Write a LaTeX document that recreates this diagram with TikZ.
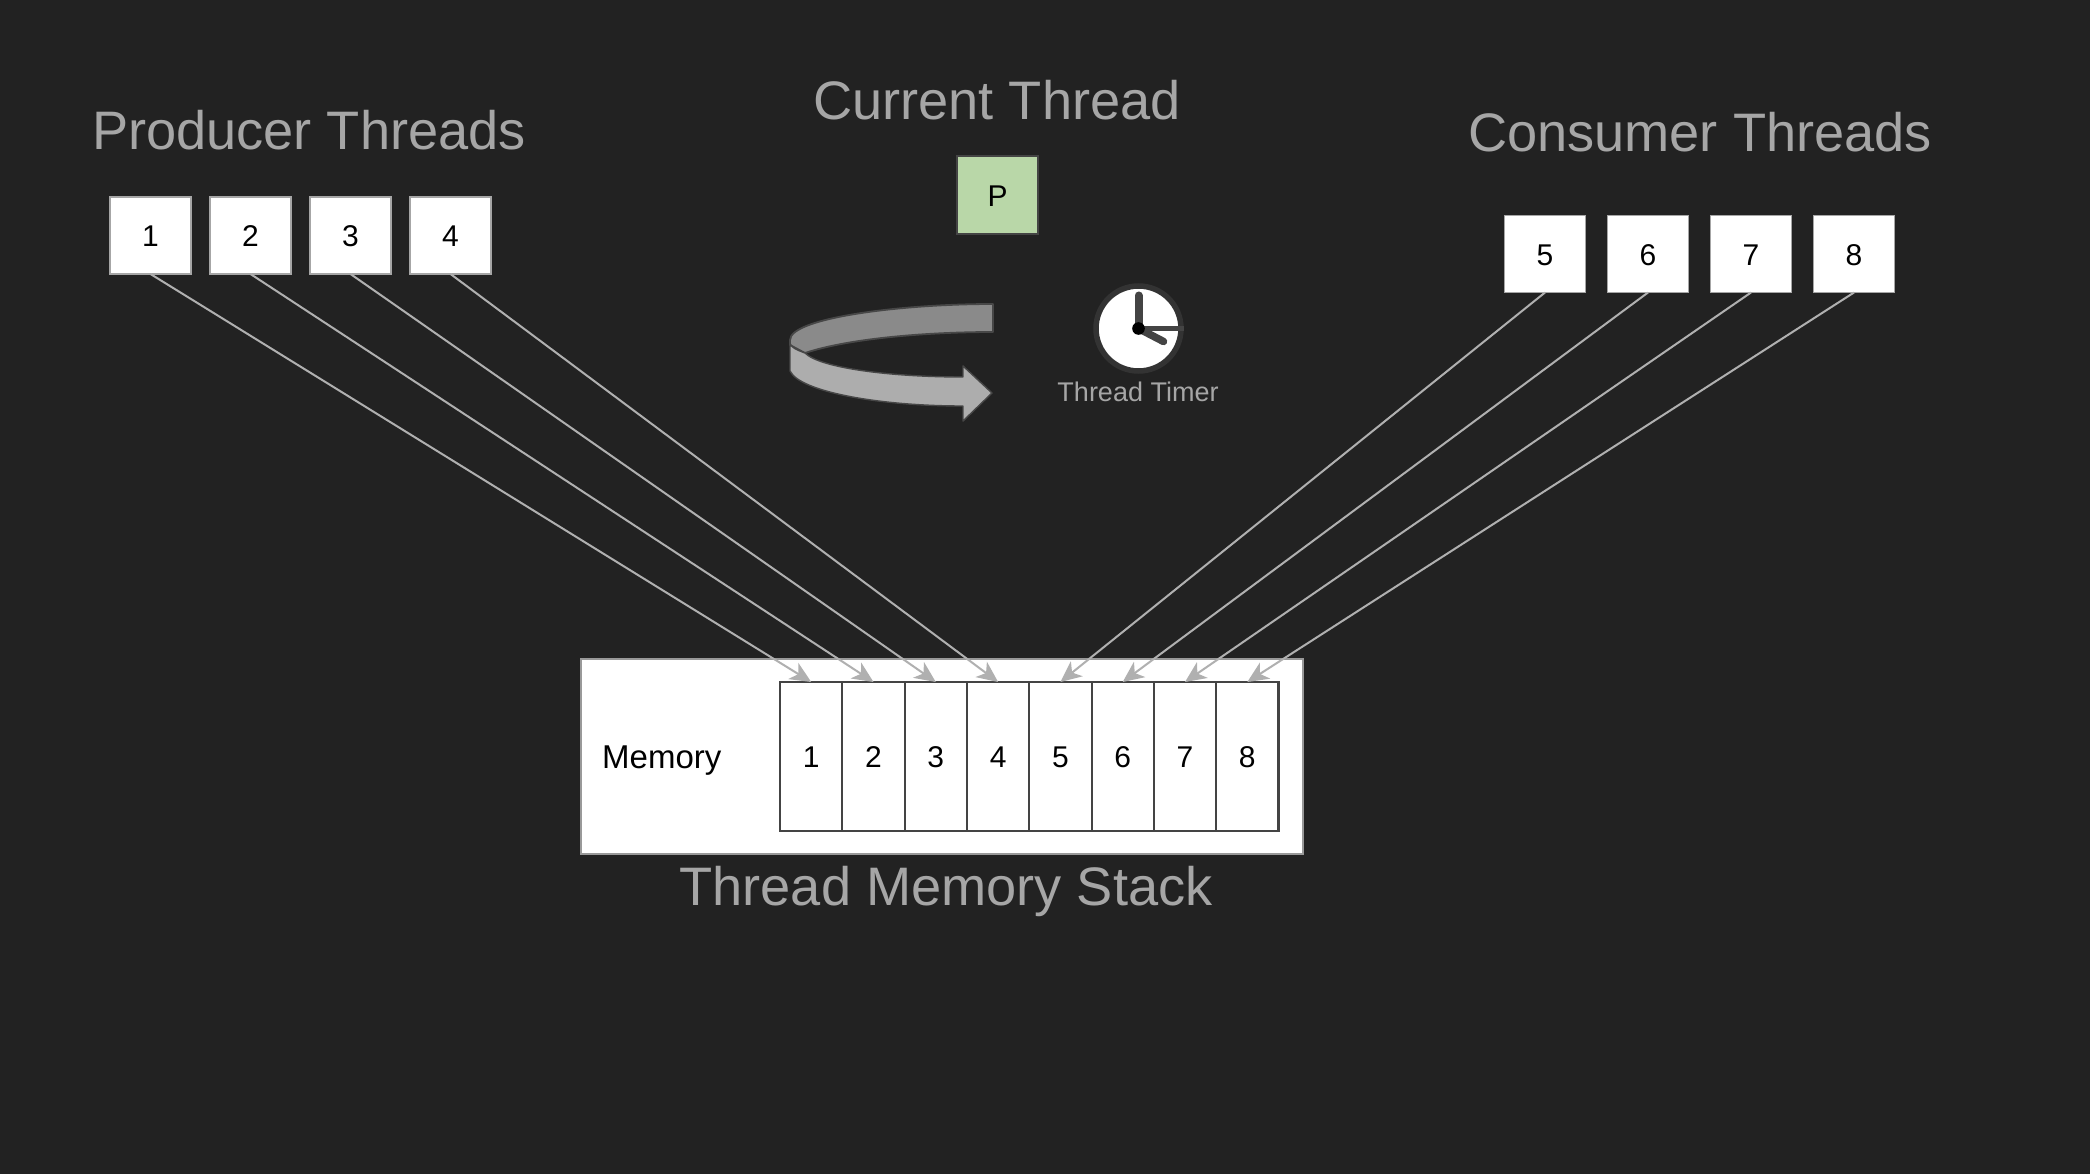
\documentclass[tikz,border=0pt]{standalone}
\usepackage{fontspec}
\setmainfont{Liberation Sans}
\usetikzlibrary{arrows.meta}
\definecolor{bgc}{HTML}{222222}
\definecolor{txtg}{HTML}{A6A6A6}
\definecolor{linkc}{HTML}{B0B0B0}
\definecolor{edgec}{HTML}{444444}
\tikzset{
  x=1pt,y=-1pt,
  tbox/.style={draw=#1,fill=white,line width=1.2pt,minimum width=81pt,minimum height=77pt,inner sep=0pt,outer sep=0pt,text=black,text height=22.4pt,text depth=0pt,font=\fontsize{30}{34}\selectfont},
  tbox/.default=gray!70,
  cell/.style={draw=edgec,fill=white,line width=2.1pt,minimum width=62.3pt,minimum height=149pt,inner sep=0pt,outer sep=0pt,text=black,text height=22.4pt,text depth=0pt,font=\fontsize{30}{34}\selectfont},
  title/.style={text=txtg,inner sep=0pt,font=\fontsize{54.2}{60}\selectfont},
  link/.style={draw=linkc,line width=2pt,-{Stealth[length=21pt,width=19pt,inset=6pt]}},
  rib/.style={draw=#1,line width=1.8pt,line join=round},
  hand/.style={draw=edgec,line cap=round}
}
\begin{document}
\begin{tikzpicture}
\useasboundingbox (0,0) rectangle (2090,1174);
\fill[bgc] (0,0) rectangle (2090,1174);

% titles
\node[title] (tprod) at (309,130) {Producer Threads};
\node[title] (tcur) at (997,100) {Current Thread};
\node[title] (tcons) at (1700,132) {Consumer Threads};

% current thread
\node[tbox=edgec,fill={rgb,255:red,185;green,215;blue,168},minimum height=78pt] (p) at (997.5,195) {P};

% memory
\node[draw=gray!80,fill=white,line width=1.2pt,minimum width=722pt,minimum height=195pt,inner sep=0pt,outer sep=0pt] (mem) at (942,756.5) {};
\node[text=black,anchor=west,inner sep=0pt,font=\fontsize{33}{38}\selectfont] (memlabel) at (602,761) {Memory};
\foreach \i/\cx in {1/811.2,2/873.5,3/935.8,4/998.1,5/1060.4,6/1122.7,7/1185,8/1247.3}{
  \node[cell] (c\i) at (\cx,756.5) {\i};
}
\node[title] (tmem) at (946,891) {Thread Memory Stack};

% producers
\foreach \i/\cx in {1/150.5,2/250.5,3/350.5,4/450.5}{
  \node[tbox] (b\i) at (\cx,235.5) {\i};
}
% consumers
\foreach \i/\cx in {5/1545,6/1648,7/1751,8/1854}{
  \node[tbox] (b\i) at (\cx,254) {\i};
}
% connectors
\foreach \i in {1,...,8}{
  \draw[link] (b\i.south) -- (c\i.north);
}

% ribbon arrow
\draw[rib=bgc!60!gray,fill=black!46] (993,304) .. controls (900,304) and (790,318) .. (790,340)
  -- (790,345) -- (805,353) .. controls (850,338) and (930,332) .. (993,332) -- cycle;
\draw[rib=bgc!60!gray,fill=black!32,line width=1.4pt] (790,343) -- (790,371)
  .. controls (800,392) and (880,406) .. (963,406) -- (963,421) -- (992,393) -- (963,366) -- (963,377)
  .. controls (890,377) and (820,368) .. (805,353) .. controls (797,350) and (790,347) .. (790,343) -- cycle;

% clock
\node[circle,draw=black!80,fill=white,line width=5.5pt,minimum size=85pt,inner sep=0pt] (clk) at (1138.5,328.5) {};
\draw[hand,line width=8pt] (clk.center) -- ++(0,-33);
\draw[hand,line width=7.5pt] (clk.center) -- ++(25,13);
\draw[draw=edgec,line width=4.5pt] (clk.center) -- (clk.east);
\fill[black] (clk.center) circle (6.3);
\node[text=txtg,inner sep=0pt,font=\fontsize{27}{32}\selectfont] (tclk) at (1138,392) {Thread Timer};
\end{tikzpicture}
\end{document}
